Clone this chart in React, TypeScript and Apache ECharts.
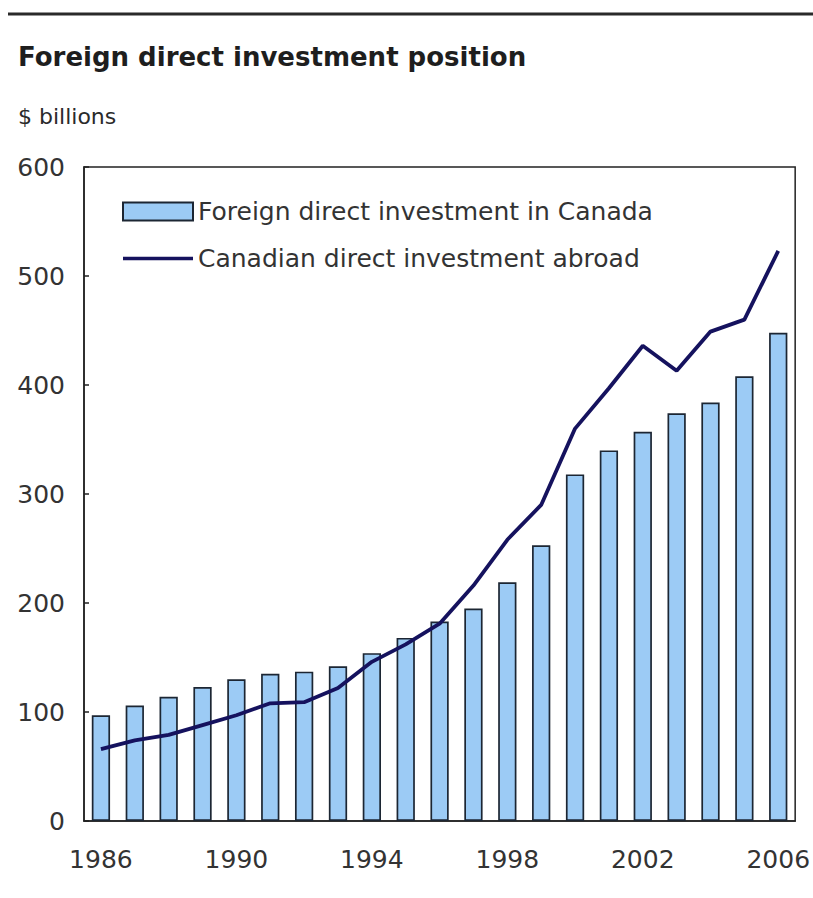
import React, { useEffect, useRef } from "react";
import * as echarts from "echarts";

const years = ["1986","1987","1988","1989","1990","1991","1992","1993","1994","1995","1996","1997","1998","1999","2000","2001","2002","2003","2004","2005","2006"];
const fdiCanada = [97, 106, 114, 123, 130, 135, 137, 142, 154, 168, 183, 195, 219, 253, 318, 340, 357, 374, 384, 408, 448];
const cdiAbroad = [66, 74, 79, 88, 97, 108, 109, 122, 146, 162, 181, 216, 258, 290, 360, 397, 436, 413, 449, 460, 523];
const yTicks = [0, 100, 200, 300, 400, 500, 600];

const FONT = "DejaVu Sans";

export default function App() {
  const ref = useRef<HTMLDivElement>(null);
  useEffect(() => {
    if (!ref.current) return;
    const chart = echarts.init(ref.current, null, { renderer: "svg" });
    chart.setOption({
      animation: false,
      backgroundColor: "#ffffff",
      textStyle: { fontFamily: FONT },
      grid: {
        left: 84,
        right: 16,
        top: 167,
        bottom: 77,
        show: true,
        borderColor: "#222222",
        borderWidth: 1.5,
        backgroundColor: "transparent",
      },
      graphic: [
        { type: "line", shape: { x1: 8, y1: 14, x2: 813, y2: 14 }, style: { stroke: "#2a2a2a", lineWidth: 3 } },
        { type: "text", left: 18, top: 44, style: { text: "Foreign direct investment position", font: `bold 26px "${FONT}"`, fill: "#1e1e1e" } },
        { type: "text", left: 18, top: 105, style: { text: "$ billions", font: `22px "${FONT}"`, fill: "#2a2a2a" } },
      ],
      legend: {
        orient: "vertical",
        left: 117,
        top: 194,
        itemWidth: 70,
        itemHeight: 18,
        itemGap: 22,
        symbolKeepAspect: true,
        textStyle: { fontFamily: FONT, fontSize: 25, color: "#333333" },
        data: [
          { name: "Foreign direct investment in Canada", icon: "rect" },
          { name: "Canadian direct investment abroad", icon: "path://M0 0 H70 V3.5 H0 Z", itemStyle: { color: "#15125e", borderWidth: 0 } },
        ],
      },
      xAxis: {
        type: "category",
        data: years,
        boundaryGap: true,
        axisLine: { show: true, lineStyle: { color: "#222222", width: 1.5 } },
        axisTick: { show: false },
        axisLabel: { interval: 3, margin: 26, fontSize: 25, fontFamily: FONT, color: "#333333" },
      },
      yAxis: {
        type: "value",
        min: yTicks[0],
        max: yTicks[yTicks.length - 1],
        interval: 100,
        axisLine: { show: true, lineStyle: { color: "#222222", width: 1.5 } },
        axisTick: { show: true, inside: true, length: 5, lineStyle: { color: "#222222", width: 1.5 } },
        axisLabel: { margin: 19, fontSize: 25, fontFamily: FONT, color: "#333333" },
        splitLine: { show: false },
      },
      series: [
        {
          name: "Foreign direct investment in Canada",
          type: "bar",
          data: fdiCanada,
          barWidth: "54%",
          itemStyle: { color: "#9ccbf5", borderColor: "#1c2633", borderWidth: 1.7 },
        },
        {
          name: "Canadian direct investment abroad",
          type: "line",
          data: cdiAbroad,
          symbol: "none",
          lineStyle: { color: "#15125e", width: 3.8 },
          itemStyle: { color: "#15125e" },
        },
      ],
    });
    return () => chart.dispose();
  }, []);
  return <div ref={ref} style={{ position: "fixed", left: 0, top: 0, width: 813, height: 898 }} />;
}
